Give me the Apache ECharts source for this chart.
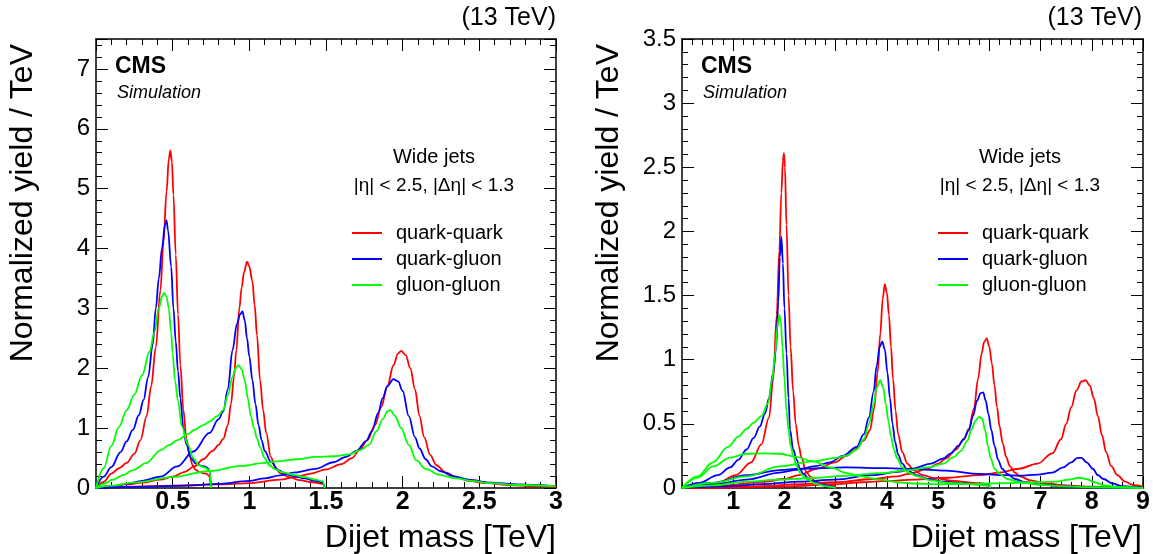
<!DOCTYPE html>
<html>
<head>
<meta charset="utf-8">
<script src="https://cdn.jsdelivr.net/npm/echarts@6/dist/echarts.min.js"></script>
<style>html,body{margin:0;padding:0;background:#fff}#c{width:1153px;height:554px}</style>
</head>
<body>
<div id="c"></div>
<script>
// ---------- Left panel: resonance masses 0.5, 1, 2 TeV ----------
const qq_05 = [[0,0],[0.05,0.1],[0.1,0.24],[0.15,0.33],[0.2,0.42],[0.25,0.57],[0.29,0.8],[0.33,1.2],[0.36,1.7],[0.39,2.35],[0.42,3.3],[0.44,4.1],[0.46,4.95],[0.475,5.5],[0.485,5.64],[0.495,5.45],[0.505,4.9],[0.52,3.9],[0.535,2.9],[0.55,2.05],[0.57,1.3],[0.59,0.82],[0.61,0.55],[0.63,0.38],[0.65,0.3],[0.68,0.26],[0.72,0.24],[0.74,0.2],[0.75,0]];
const qg_05 = [[0,0],[0.05,0.19],[0.1,0.35],[0.16,0.6],[0.2,0.78],[0.24,0.97],[0.28,1.22],[0.31,1.47],[0.34,1.85],[0.37,2.4],[0.39,3.0],[0.41,3.5],[0.43,4.0],[0.45,4.4],[0.46,4.47],[0.47,4.3],[0.49,3.7],[0.505,3.0],[0.52,2.45],[0.535,1.95],[0.55,1.5],[0.57,1.0],[0.59,0.72],[0.62,0.5],[0.65,0.41],[0.69,0.37],[0.72,0.35],[0.74,0.3],[0.75,0]];
const gg_05 = [[0,0],[0.05,0.33],[0.1,0.7],[0.15,1.02],[0.2,1.3],[0.25,1.56],[0.3,1.88],[0.35,2.28],[0.38,2.6],[0.41,3.0],[0.43,3.2],[0.445,3.26],[0.46,3.2],[0.475,3.0],[0.49,2.6],[0.5,2.25],[0.515,1.8],[0.535,1.45],[0.56,1.03],[0.6,0.72],[0.635,0.5],[0.67,0.38],[0.71,0.34],[0.74,0.3],[0.75,0]];
const qq_1 = [[0,0],[0.1,0.03],[0.2,0.06],[0.3,0.09],[0.42,0.14],[0.5,0.19],[0.58,0.27],[0.64,0.36],[0.7,0.48],[0.76,0.62],[0.8,0.72],[0.83,0.82],[0.86,1.05],[0.88,1.4],[0.9,1.85],[0.915,2.3],[0.935,3.0],[0.95,3.35],[0.965,3.6],[0.985,3.78],[1.0,3.7],[1.02,3.45],[1.035,3.05],[1.05,2.55],[1.07,1.8],[1.09,1.3],[1.11,0.92],[1.14,0.52],[1.17,0.34],[1.2,0.25],[1.26,0.18],[1.33,0.13],[1.4,0.1],[1.48,0.07],[1.49,0]];
const qg_1 = [[0,0],[0.1,0.03],[0.2,0.07],[0.3,0.12],[0.42,0.19],[0.53,0.36],[0.635,0.61],[0.74,0.92],[0.8,1.15],[0.83,1.28],[0.86,1.65],[0.89,2.3],[0.92,2.75],[0.94,2.9],[0.955,2.95],[0.97,2.8],[0.985,2.5],[1.0,2.2],[1.02,1.8],[1.04,1.4],[1.06,1.05],[1.08,0.8],[1.1,0.62],[1.14,0.44],[1.19,0.3],[1.24,0.23],[1.29,0.2],[1.36,0.16],[1.43,0.12],[1.48,0.09],[1.49,0]];
const gg_1 = [[0,0],[0.05,0.07],[0.11,0.14],[0.18,0.22],[0.24,0.3],[0.33,0.42],[0.42,0.63],[0.48,0.72],[0.53,0.8],[0.6,0.9],[0.64,0.97],[0.7,1.05],[0.74,1.11],[0.79,1.2],[0.83,1.3],[0.86,1.55],[0.89,1.85],[0.91,2.0],[0.93,2.05],[0.95,1.98],[0.97,1.8],[0.99,1.5],[1.01,1.2],[1.03,1.0],[1.05,0.83],[1.07,0.68],[1.1,0.5],[1.13,0.38],[1.17,0.31],[1.22,0.26],[1.29,0.22],[1.36,0.18],[1.43,0.14],[1.48,0.11],[1.49,0]];
const qq_2 = [[0,0],[0.2,0.02],[0.5,0.04],[0.8,0.06],[1.0,0.08],[1.2,0.14],[1.3,0.18],[1.4,0.24],[1.5,0.31],[1.6,0.4],[1.67,0.5],[1.72,0.64],[1.77,0.8],[1.82,1.05],[1.86,1.35],[1.9,1.7],[1.94,2.05],[1.97,2.25],[1.99,2.29],[2.02,2.22],[2.05,2.0],[2.08,1.65],[2.11,1.2],[2.14,0.85],[2.18,0.55],[2.22,0.38],[2.28,0.26],[2.35,0.18],[2.43,0.12],[2.55,0.08],[2.7,0.05],[2.85,0.03],[3.0,0.02]];
const qg_2 = [[0,0],[0.3,0.02],[0.6,0.04],[0.8,0.07],[1.0,0.12],[1.1,0.16],[1.2,0.21],[1.3,0.26],[1.43,0.32],[1.55,0.43],[1.63,0.52],[1.7,0.62],[1.76,0.78],[1.8,0.95],[1.84,1.25],[1.87,1.5],[1.9,1.7],[1.94,1.82],[1.97,1.78],[2.0,1.62],[2.04,1.2],[2.08,0.85],[2.11,0.66],[2.15,0.48],[2.19,0.36],[2.25,0.28],[2.33,0.2],[2.43,0.14],[2.57,0.09],[2.75,0.06],[3.0,0.03]];
const gg_2 = [[0,0],[0.1,0.04],[0.25,0.09],[0.5,0.18],[0.73,0.28],[0.95,0.37],[1.1,0.42],[1.2,0.45],[1.31,0.48],[1.43,0.52],[1.55,0.53],[1.65,0.56],[1.72,0.63],[1.78,0.72],[1.83,0.95],[1.87,1.15],[1.9,1.28],[1.92,1.3],[1.95,1.2],[1.99,1.0],[2.04,0.72],[2.09,0.46],[2.15,0.32],[2.24,0.22],[2.35,0.16],[2.45,0.12],[2.57,0.08],[2.75,0.05],[3.0,0.03]];

// ---------- Right panel: resonance masses 2, 4, 6, 8 TeV ----------
const qq_R2 = [[0,0],[0.3,0.01],[0.7,0.04],[1.05,0.1],[1.35,0.2],[1.55,0.34],[1.7,0.55],[1.78,0.85],[1.85,1.35],[1.9,1.85],[1.94,2.3],[1.97,2.55],[1.99,2.61],[2.01,2.5],[2.04,2.05],[2.08,1.5],[2.12,1.1],[2.17,0.75],[2.22,0.5],[2.28,0.33],[2.33,0.24],[2.42,0.13],[2.5,0.09],[2.6,0.05],[2.8,0.03],[2.99,0.02],[3.0,0]];
const qg_R2 = [[0,0],[0.34,0.04],[0.7,0.1],[0.94,0.16],[1.1,0.22],[1.26,0.3],[1.4,0.39],[1.52,0.48],[1.62,0.58],[1.7,0.7],[1.78,0.9],[1.84,1.1],[1.88,1.45],[1.91,1.8],[1.94,1.96],[1.97,1.75],[2.0,1.4],[2.04,1.05],[2.08,0.7],[2.11,0.45],[2.17,0.3],[2.24,0.22],[2.3,0.15],[2.37,0.11],[2.5,0.06],[2.7,0.03],[2.9,0.015],[3.0,0]];
const gg_R2 = [[0,0],[0.3,0.09],[0.6,0.2],[0.9,0.32],[1.1,0.4],[1.26,0.46],[1.4,0.51],[1.55,0.56],[1.68,0.66],[1.76,0.85],[1.82,1.05],[1.86,1.25],[1.9,1.35],[1.93,1.3],[1.96,1.1],[2.0,0.85],[2.04,0.6],[2.08,0.45],[2.12,0.33],[2.18,0.24],[2.24,0.17],[2.32,0.11],[2.43,0.07],[2.6,0.035],[2.8,0.015],[3.0,0]];
const qq_R4 = [[0,0],[0.4,0.01],[0.84,0.02],[1.56,0.047],[2.0,0.07],[2.28,0.1],[2.63,0.15],[2.99,0.2],[3.2,0.25],[3.4,0.31],[3.55,0.37],[3.67,0.45],[3.75,0.62],[3.82,0.9],[3.87,1.2],[3.92,1.48],[3.96,1.59],[4.0,1.52],[4.04,1.35],[4.08,1.1],[4.12,0.85],[4.17,0.6],[4.22,0.42],[4.3,0.28],[4.4,0.19],[4.52,0.14],[4.7,0.1],[4.95,0.075],[5.3,0.055],[5.7,0.04],[5.99,0.03],[6.0,0]];
const qg_R4 = [[0,0],[0.61,0.026],[1.26,0.065],[1.91,0.12],[2.24,0.142],[2.6,0.17],[2.89,0.2],[3.14,0.25],[3.41,0.32],[3.55,0.42],[3.65,0.55],[3.74,0.75],[3.8,0.95],[3.86,1.1],[3.91,1.14],[3.96,1.08],[4.01,0.9],[4.06,0.7],[4.11,0.5],[4.16,0.36],[4.22,0.26],[4.3,0.19],[4.4,0.14],[4.57,0.1],[4.8,0.07],[5.1,0.05],[5.5,0.035],[6.0,0.02],[6.01,0]];
const gg_R4 = [[0,0],[0.61,0.04],[1.26,0.09],[1.91,0.168],[2.565,0.207],[3.0,0.235],[3.216,0.252],[3.41,0.3],[3.55,0.38],[3.65,0.5],[3.74,0.65],[3.8,0.78],[3.87,0.84],[3.93,0.78],[3.98,0.65],[4.03,0.52],[4.08,0.4],[4.14,0.3],[4.2,0.23],[4.3,0.16],[4.42,0.12],[4.6,0.09],[4.85,0.06],[5.2,0.04],[5.6,0.03],[6.0,0.02],[6.01,0]];
const qq_R6 = [[0,0],[0.8,0.005],[1.56,0.015],[2.3,0.03],[2.99,0.045],[3.71,0.07],[4.2,0.09],[4.43,0.11],[4.79,0.15],[5.0,0.19],[5.15,0.23],[5.35,0.3],[5.5,0.38],[5.6,0.46],[5.7,0.62],[5.78,0.85],[5.85,1.05],[5.9,1.14],[5.95,1.167],[6.0,1.1],[6.05,0.97],[6.1,0.8],[6.15,0.63],[6.2,0.48],[6.26,0.35],[6.33,0.24],[6.4,0.17],[6.5,0.12],[6.6,0.09],[6.8,0.06],[7.1,0.035],[7.5,0.02],[8.0,0.01],[9.0,0]];
const qg_R6 = [[0,0],[0.8,0.012],[1.56,0.03],[2.3,0.05],[2.99,0.065],[3.71,0.1],[4.2,0.125],[4.5,0.15],[4.86,0.19],[5.1,0.23],[5.25,0.27],[5.4,0.33],[5.5,0.38],[5.6,0.45],[5.68,0.56],[5.76,0.68],[5.83,0.74],[5.88,0.745],[5.93,0.68],[5.98,0.58],[6.04,0.45],[6.1,0.33],[6.17,0.22],[6.25,0.15],[6.35,0.11],[6.5,0.07],[6.7,0.045],[7.0,0.027],[7.5,0.012],[8.0,0.005],[9.0,0]];
const gg_R6 = [[0,0],[0.6,0.02],[1.26,0.05],[1.9,0.065],[2.565,0.078],[3.2,0.095],[3.87,0.116],[4.43,0.14],[4.79,0.16],[5.1,0.19],[5.3,0.24],[5.45,0.29],[5.57,0.37],[5.65,0.45],[5.72,0.52],[5.8,0.555],[5.86,0.54],[5.92,0.45],[5.97,0.33],[6.03,0.23],[6.1,0.15],[6.2,0.11],[6.35,0.07],[6.6,0.045],[7.0,0.025],[7.5,0.012],[8.0,0.006],[9.0,0]];
const qq_R8 = [[0,0],[1.0,0.004],[2.0,0.012],[3.0,0.03],[3.5,0.045],[4.0,0.055],[4.52,0.065],[5.2,0.08],[5.82,0.1],[6.2,0.12],[6.58,0.15],[6.94,0.19],[7.23,0.27],[7.4,0.38],[7.5,0.5],[7.6,0.63],[7.7,0.76],[7.8,0.83],[7.88,0.84],[7.96,0.8],[8.04,0.7],[8.12,0.56],[8.2,0.41],[8.28,0.28],[8.38,0.17],[8.5,0.1],[8.65,0.05],[8.8,0.025],[9.0,0.01]];
const qg_R8 = [[0,0],[0.6,0.04],[1.26,0.1],[1.91,0.14],[2.3,0.15],[3.2,0.16],[4.0,0.155],[4.52,0.147],[5.15,0.135],[5.82,0.11],[6.3,0.1],[6.6,0.096],[6.94,0.105],[7.23,0.12],[7.44,0.16],[7.6,0.2],[7.72,0.235],[7.8,0.235],[7.9,0.2],[8.02,0.15],[8.12,0.1],[8.23,0.07],[8.4,0.035],[8.6,0.015],[9.0,0.003]];
const gg_R8 = [[0,0],[0.3,0.08],[0.61,0.168],[0.94,0.237],[1.26,0.267],[1.6,0.27],[1.91,0.267],[2.2,0.245],[2.565,0.207],[2.9,0.16],[3.216,0.116],[3.5,0.09],[3.87,0.065],[4.2,0.045],[4.52,0.035],[5.0,0.03],[5.5,0.03],[6.0,0.035],[6.5,0.04],[7.0,0.045],[7.3,0.05],[7.55,0.065],[7.75,0.08],[7.9,0.07],[8.05,0.045],[8.25,0.02],[8.5,0.008],[9.0,0]];

const legendNames = ['quark-quark', 'quark-gluon', 'gluon-gluon'];
const leftCurves = [[qq_05,0],[qg_05,1],[gg_05,2],[qq_1,0],[qg_1,1],[gg_1,2],[qq_2,0],[qg_2,1],[gg_2,2]];
const rightCurves = [[qq_R2,0],[qg_R2,1],[gg_R2,2],[qq_R4,0],[qg_R4,1],[gg_R4,2],[qq_R6,0],[qg_R6,1],[gg_R6,2],[qq_R8,0],[qg_R8,1],[gg_R8,2]];
const xMaxL = 3, xMajL = 0.5, xMinL = 0.1, yMaxL = 7.5, yMajL = 1, yMinL = 0.2;
const xMaxR = 9, xMajR = 1, xMinR = 0.2, yMaxR = 3.5, yMajR = 0.5, yMinR = 0.1;

const COLORS = ['#ff0000', '#0000ff', '#00ff00'];
const FONT = "'Liberation Sans', Arial, Helvetica, sans-serif";

const chart = echarts.init(document.getElementById('c'), null, {renderer: 'canvas'});

const PANELS = [
  {left: 96, width: 460},
  {left: 682, width: 461}
];
const TOP = 39, HEIGHT = 449;

const grids = [];
PANELS.forEach(p => {
  grids.push({left: p.left, top: TOP, width: p.width, height: HEIGHT, containLabel: false});
  grids.push({left: p.left, top: TOP, width: p.width, height: HEIGHT, containLabel: false});
});

function xAx(grid, pos, max, interval, major, labels) {
  return {
    type: 'value', gridIndex: grid, position: pos, min: 0, max: max, interval: interval,
    axisLine: {show: major, onZero: false, lineStyle: {color: '#000', width: 1.5}},
    axisTick: {show: true, inside: true, length: major ? 12 : 6, lineStyle: {color: '#000', width: 1}},
    axisLabel: labels ? {show: true, showMinLabel: false, margin: 2, color: '#000', fontFamily: FONT, fontSize: 25, fontWeight: 'bold'} : {show: false},
    splitLine: {show: false}
  };
}
function yAx(grid, pos, max, interval, major, labels) {
  return {
    type: 'value', gridIndex: grid, position: pos, min: 0, max: max, interval: interval,
    axisLine: {show: major, onZero: false, lineStyle: {color: '#000', width: 1.5}},
    axisTick: {show: true, inside: true, length: major ? 12 : 6, lineStyle: {color: '#000', width: 1}},
    axisLabel: labels ? {show: true, margin: 6, color: '#000', fontFamily: FONT, fontSize: 24,
      formatter: v => (Math.abs(v / interval - Math.round(v / interval)) < 1e-6 ? String(v) : '')} : {show: false},
    splitLine: {show: false}
  };
}

const xAxis = [
  xAx(0, 'bottom', xMaxL, xMajL, true, true), xAx(0, 'top', xMaxL, xMajL, true, false),
  xAx(1, 'bottom', xMaxL, xMinL, false, false), xAx(1, 'top', xMaxL, xMinL, false, false),
  xAx(2, 'bottom', xMaxR, xMajR, true, true), xAx(2, 'top', xMaxR, xMajR, true, false),
  xAx(3, 'bottom', xMaxR, xMinR, false, false), xAx(3, 'top', xMaxR, xMinR, false, false)
];
const yAxis = [
  yAx(0, 'left', yMaxL, yMajL, true, true), yAx(0, 'right', yMaxL, yMajL, true, false),
  yAx(1, 'left', yMaxL, yMinL, false, false), yAx(1, 'right', yMaxL, yMinL, false, false),
  yAx(2, 'left', yMaxR, yMajR, true, true), yAx(2, 'right', yMaxR, yMajR, true, false),
  yAx(3, 'left', yMaxR, yMinR, false, false), yAx(3, 'right', yMaxR, yMinR, false, false)
];

const series = [];
function addCurves(list, axisIdx) {
  list.forEach(([data, k]) => {
    series.push({
      type: 'line', name: legendNames[k], data: data,
      xAxisIndex: axisIdx, yAxisIndex: axisIdx,
      symbol: 'none', showSymbol: false, smooth: 0.35, smoothMonotone: 'x',
      lineStyle: {color: COLORS[k], width: 1.8}, itemStyle: {color: COLORS[k]},
      z: 3 + k, animation: false
    });
  });
}
addCurves(leftCurves, 0);
addCurves(rightCurves, 4);

function legend(left) {
  return {
    data: legendNames.map(n => ({name: n, icon: 'rect'})),
    orient: 'vertical', left: left, top: 223, padding: 0, itemWidth: 30, itemHeight: 2, itemGap: 6,
    selectedMode: false,
    textStyle: {color: '#000', fontFamily: FONT, fontSize: 20, lineHeight: 20, padding: [0, 0, 0, 9]}
  };
}

function txt(x, y, text, size, opts) {
  opts = opts || {};
  return {
    type: 'text', x: x, y: y, rotation: opts.rot || 0, silent: true,
    style: {
      text: text, fill: '#000', fontFamily: FONT, fontSize: size,
      fontWeight: opts.bold ? 'bold' : 'normal', fontStyle: opts.italic ? 'italic' : 'normal',
      align: opts.align || 'left', verticalAlign: 'middle',
      textAlign: opts.align || 'left', textVerticalAlign: 'middle'
    }
  };
}
const graphics = [];
[0, 586].forEach(off => {
  graphics.push(txt(556 + off, 18, '(13 TeV)', 25, {align: 'right'}));
  graphics.push(txt(115 + off, 67, 'CMS', 23, {bold: true}));
  graphics.push(txt(117 + off, 93, 'Simulation', 18, {italic: true}));
  graphics.push(txt(434 + off, 157, 'Wide jets', 20, {align: 'center'}));
  graphics.push(txt(434 + off, 186, '|η| < 2.5, |Δη| < 1.3', 19, {align: 'center'}));
  graphics.push(txt(556 + off, 538, 'Dijet mass [TeV]', 32, {align: 'right'}));
  graphics.push(txt(23 + off, 44, 'Normalized yield / TeV', 32, {align: 'right', rot: Math.PI / 2}));
});

chart.setOption({
  animation: false,
  backgroundColor: '#ffffff',
  grid: grids,
  xAxis: xAxis,
  yAxis: yAxis,
  legend: [legend(352), legend(938)],
  series: series,
  graphic: graphics
});
</script>
</body>
</html>
